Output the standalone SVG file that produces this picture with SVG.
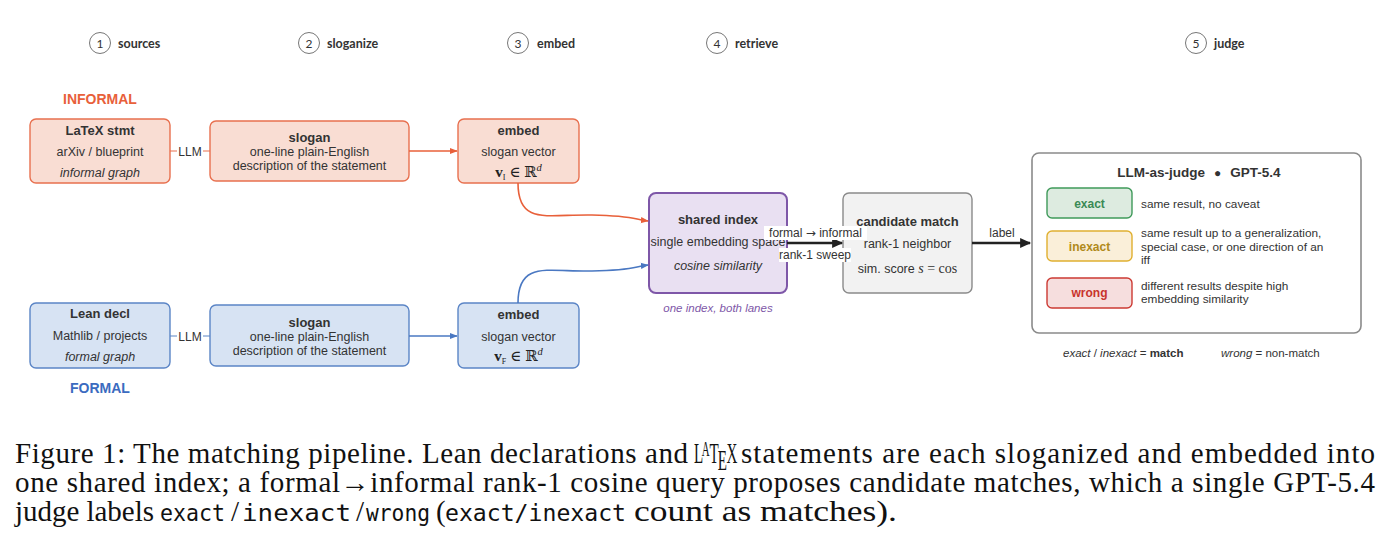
<svg xmlns="http://www.w3.org/2000/svg" width="1392" height="558" viewBox="0 0 1392 558">
<style>
  text { font-family: "Liberation Sans", Arial, sans-serif; fill: #333; }
  .hdr { font-family: Lato, "Liberation Sans", sans-serif; font-weight: bold; font-size: 12.5px; fill: #333; }
  .num { font-family: Lato, "Liberation Sans", sans-serif; font-size: 12px; text-anchor: middle; fill: #333; }
  .circ { fill: #fff; stroke: #777; stroke-width: 1; }
  .ttl { font-weight: bold; font-size: 13px; text-anchor: middle; }
  .bd { font-size: 12.5px; text-anchor: middle; }
  .it { font-style: italic; }
  .math { font-family: "Liberation Serif", "DejaVu Serif", serif; font-size: 15px; text-anchor: middle; fill: #222; }
  .inf { fill: #F9DDD3; stroke: #E8704F; stroke-width: 1.4; }
  .frm { fill: #D7E3F3; stroke: #5B85C6; stroke-width: 1.4; }
  .idx { fill: #E9E0F2; stroke: #7E57A8; stroke-width: 2; }
  .cand { fill: #F2F2F2; stroke: #8A8A8A; stroke-width: 1.4; }
  .judge { fill: #fff; stroke: #8A8A8A; stroke-width: 1.6; }
  .desc { font-size: 11.8px; }
  .bt { font-weight: bold; font-size: 12px; text-anchor: middle; }
  .lbl { font-size: 12px; text-anchor: middle; }
  .cap { font-family: "Liberation Serif", "Times New Roman", serif; font-size: 29px; fill: #111; }
  .mono { font-family: "DejaVu Sans Mono", "Liberation Mono", monospace; font-size: 23px; fill: #111; }
</style>
<defs>
  <marker id="ao" viewBox="0 0 10 10" refX="9" refY="5" markerWidth="8" markerHeight="8" markerUnits="userSpaceOnUse" orient="auto"><path d="M0,1 L10,5 L0,9 Z" fill="#E8603A"/></marker>
  <marker id="ab" viewBox="0 0 10 10" refX="9" refY="5" markerWidth="8" markerHeight="8" markerUnits="userSpaceOnUse" orient="auto"><path d="M0,1 L10,5 L0,9 Z" fill="#4A78C2"/></marker>
  <marker id="ak" viewBox="0 0 10 10" refX="9" refY="5" markerWidth="13" markerHeight="11" markerUnits="userSpaceOnUse" orient="auto"><path d="M0,0.5 L10,5 L0,9.5 Z" fill="#222"/></marker>
</defs>

<!-- stage headers -->
<g id="headers">
  <circle class="circ" cx="100" cy="43" r="10.5"/><text class="num" x="100" y="47.5">1</text><text class="hdr" x="118" y="47.5">sources</text>
  <circle class="circ" cx="309" cy="43" r="10.5"/><text class="num" x="309" y="47.5">2</text><text class="hdr" x="327" y="47.5">sloganize</text>
  <circle class="circ" cx="518" cy="43" r="10.5"/><text class="num" x="518" y="47.5">3</text><text class="hdr" x="537" y="47.5">embed</text>
  <circle class="circ" cx="717" cy="43" r="10.5"/><text class="num" x="717" y="47.5">4</text><text class="hdr" x="735" y="47.5">retrieve</text>
  <circle class="circ" cx="1196" cy="43" r="10.5"/><text class="num" x="1196" y="47.5">5</text><text class="hdr" x="1214" y="47.5">judge</text>
</g>

<text x="100" y="104" font-size="14" font-weight="bold" text-anchor="middle" style="fill:#E8603A">INFORMAL</text>
<text x="100" y="393" font-size="14" font-weight="bold" text-anchor="middle" style="fill:#3B6BC0">FORMAL</text>

<!-- informal lane -->
<g id="n-latex">
  <rect class="inf" x="30" y="119" width="140" height="64" rx="6"/>
  <text class="ttl" x="100" y="135">LaTeX stmt</text>
  <text class="bd" x="100" y="156">arXiv / blueprint</text>
  <text class="bd it" x="100" y="177">informal graph</text>
</g>
<g id="n-slogan-i">
  <rect class="inf" x="210" y="121" width="199" height="60" rx="6"/>
  <text class="ttl" x="309.5" y="142">slogan</text>
  <text class="bd" x="309.5" y="156">one-line plain-English</text>
  <text class="bd" x="309.5" y="170">description of the statement</text>
</g>
<g id="n-embed-i">
  <rect class="inf" x="458" y="119" width="121" height="64" rx="6"/>
  <text class="ttl" x="518.5" y="135">embed</text>
  <text class="bd" x="518.5" y="156">slogan vector</text>
  <text class="math" x="518.5" y="177"><tspan font-weight="bold">v</tspan><tspan font-size="8" dy="3">I</tspan><tspan dy="-3"> ∈ ℝ</tspan><tspan font-size="10.5" font-style="italic" dy="-6">d</tspan></text>
</g>

<!-- formal lane -->
<g id="n-lean">
  <rect class="frm" x="30" y="303" width="140" height="65" rx="6"/>
  <text class="ttl" x="100" y="318">Lean decl</text>
  <text class="bd" x="100" y="340">Mathlib / projects</text>
  <text class="bd it" x="100" y="361">formal graph</text>
</g>
<g id="n-slogan-f">
  <rect class="frm" x="210" y="305" width="199" height="61" rx="6"/>
  <text class="ttl" x="309.5" y="327">slogan</text>
  <text class="bd" x="309.5" y="341">one-line plain-English</text>
  <text class="bd" x="309.5" y="355">description of the statement</text>
</g>
<g id="n-embed-f">
  <rect class="frm" x="458" y="303" width="121" height="65" rx="6"/>
  <text class="ttl" x="518.5" y="319">embed</text>
  <text class="bd" x="518.5" y="341">slogan vector</text>
  <text class="math" x="518.5" y="361"><tspan font-weight="bold">v</tspan><tspan font-size="8" dy="3">F</tspan><tspan dy="-3"> ∈ ℝ</tspan><tspan font-size="10.5" font-style="italic" dy="-6">d</tspan></text>
</g>

<!-- shared index -->
<g id="n-index">
  <rect class="idx" x="649" y="193" width="138" height="100" rx="7"/>
  <text class="ttl" x="718" y="224">shared index</text>
  <text class="bd" x="718" y="246">single embedding space</text>
  <text class="bd it" x="718" y="270">cosine similarity</text>
  <text x="718" y="312" font-size="11.5" font-style="italic" text-anchor="middle" style="fill:#7E57A8">one index, both lanes</text>
</g>

<!-- candidate -->
<g id="n-candidate">
  <rect class="cand" x="843" y="193" width="129" height="100" rx="6"/>
  <text class="ttl" x="907.5" y="226">candidate match</text>
  <text class="bd" x="907.5" y="248">rank-1 neighbor</text>
  <text class="bd" x="907.5" y="273">sim. score <tspan font-family="Liberation Serif, serif" font-style="italic" font-size="14">s</tspan><tspan font-family="Liberation Serif, serif" font-size="14"> = cos</tspan></text>
</g>

<!-- judge -->
<g id="n-judge">
  <rect class="judge" x="1032" y="153" width="329" height="180" rx="7"/>
  <text x="1199" y="177" font-size="13.5" font-weight="bold" text-anchor="middle">LLM-as-judge<tspan dx="9" font-size="12">●</tspan><tspan dx="9">GPT-5.4</tspan></text>

  <rect x="1047" y="188" width="85" height="30" rx="5" fill="#DDEBE0" stroke="#3F9A5A" stroke-width="1.4"/>
  <text class="bt" x="1089.5" y="207.5" style="fill:#3A8A55">exact</text>
  <text class="desc" x="1141" y="207.5">same result, no caveat</text>

  <rect x="1047" y="231" width="85" height="30" rx="5" fill="#FAEFD9" stroke="#E0B030" stroke-width="1.4"/>
  <text class="bt" x="1089.5" y="250.5" style="fill:#B08A1A">inexact</text>
  <text class="desc" x="1141" y="236.5">same result up to a generalization,</text>
  <text class="desc" x="1141" y="250.5">special case, or one direction of an</text>
  <text class="desc" x="1141" y="263.5">iff</text>

  <rect x="1047" y="278" width="85" height="30" rx="5" fill="#F6DEDE" stroke="#CC3A33" stroke-width="1.4"/>
  <text class="bt" x="1089.5" y="296.5" style="fill:#C8332C">wrong</text>
  <text class="desc" x="1141" y="289.5">different results despite high</text>
  <text class="desc" x="1141" y="303">embedding similarity</text>
</g>
<g id="legend">
  <text x="1063" y="357" font-size="11.5"><tspan font-style="italic">exact</tspan> / <tspan font-style="italic">inexact</tspan> = <tspan font-weight="bold">match</tspan></text>
  <text x="1221" y="357" font-size="11.5"><tspan font-style="italic">wrong</tspan> = non-match</text>
</g>

<!-- connectors (drawn on top so their labels cover box edges) -->
<g id="connectors" fill="none">
  <line x1="170" y1="151" x2="210" y2="151" stroke="#E8704F" stroke-width="1.2"/>
  <rect x="177" y="143" width="26" height="16" fill="#fff" stroke="none"/>
  <text x="190" y="155.5" class="lbl">LLM</text>
  <line x1="170" y1="336" x2="210" y2="336" stroke="#5B85C6" stroke-width="1.2"/>
  <rect x="177" y="328" width="26" height="16" fill="#fff" stroke="none"/>
  <text x="190" y="340.5" class="lbl">LLM</text>

  <line x1="409" y1="151" x2="457" y2="151" stroke="#E8603A" stroke-width="1.5" marker-end="url(#ao)"/>
  <line x1="409" y1="336" x2="457" y2="336" stroke="#4A78C2" stroke-width="1.5" marker-end="url(#ab)"/>

  <path d="M518,183 C518,226 548,214 592,215 S632,219 648,221" stroke="#E8603A" stroke-width="1.6" marker-end="url(#ao)"/>
  <path d="M518,303 C518,260 548,272 592,271 S632,267 648,265" stroke="#4A78C2" stroke-width="1.6" marker-end="url(#ab)"/>

  <line x1="787" y1="243" x2="842" y2="243" stroke="#222" stroke-width="2.4" marker-end="url(#ak)"/>
  <rect x="764" y="226" width="103" height="14" fill="#fff" stroke="none"/>
  <text x="815.5" y="237" class="lbl">formal <tspan font-family="DejaVu Sans, sans-serif">→</tspan> informal</text>
  <rect x="779" y="248" width="72" height="14" fill="#fff" stroke="none"/>
  <text x="815" y="259" class="lbl">rank-1 sweep</text>

  <line x1="972" y1="243" x2="1030" y2="243" stroke="#222" stroke-width="2.4" marker-end="url(#ak)"/>
  <text x="1002" y="237" class="lbl">label</text>
</g>

<!-- caption -->
<g id="caption">
  <text class="cap" x="15" y="463" textLength="673" lengthAdjust="spacing">Figure 1: The matching pipeline. Lean declarations and</text>
  <text class="cap" transform="translate(694,463) scale(0.52,1)">L<tspan font-size="21" dx="-3" dy="-7">A</tspan><tspan dx="0" dy="7">T</tspan><tspan dx="-2" dy="7">E</tspan><tspan dx="-1" dy="-7">X</tspan></text>
  <text class="cap" x="741" y="463" textLength="634" lengthAdjust="spacing">statements are each sloganized and embedded into</text>
  <text class="cap" x="15" y="492" textLength="1360" lengthAdjust="spacing">one shared index; a formal→informal rank-1 cosine query proposes candidate matches, which a single GPT-5.4</text>
  <text class="cap" x="15" y="521" textLength="139" lengthAdjust="spacing">judge labels</text>
  <text class="mono" x="160" y="521" textLength="65" lengthAdjust="spacingAndGlyphs">exact</text>
  <text class="cap" x="231" y="521">/</text>
  <text class="mono" x="242" y="521" textLength="109" lengthAdjust="spacingAndGlyphs">inexact</text>
  <text class="cap" x="356" y="521">/</text>
  <text class="mono" x="366" y="521" textLength="64" lengthAdjust="spacingAndGlyphs">wrong</text>
  <text class="cap" x="436" y="521">(</text>
  <text class="mono" x="445" y="521" textLength="181" lengthAdjust="spacingAndGlyphs">exact/inexact</text>
  <text class="cap" x="634" y="521" textLength="263" lengthAdjust="spacingAndGlyphs">count as matches).</text>
</g>
</svg>
